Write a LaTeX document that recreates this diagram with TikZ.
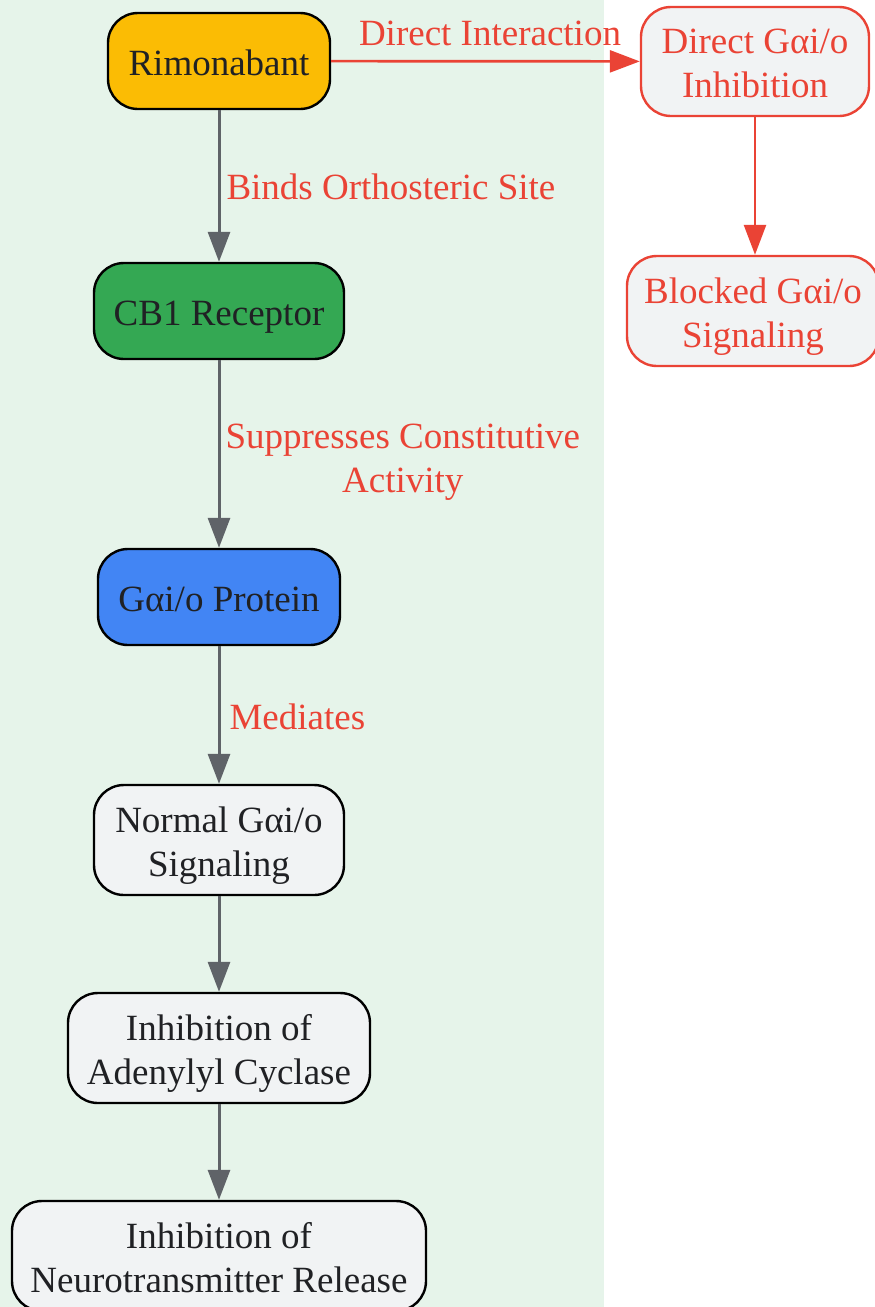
\documentclass[tikz,border=0pt]{standalone}
\usepackage{fontspec}
\setmainfont{Liberation Serif}
\usetikzlibrary{arrows.meta}
\definecolor{bggreen}{HTML}{E6F4EA}
\definecolor{gyellow}{HTML}{FBBC04}
\definecolor{ggreen}{HTML}{34A853}
\definecolor{gblue}{HTML}{4285F4}
\definecolor{glight}{HTML}{F1F3F4}
\definecolor{gred}{HTML}{EA4335}
\definecolor{ggray}{HTML}{5F6368}
\definecolor{gtext}{HTML}{202124}
\tikzset{
  box/.style={draw=black, line width=2.4pt, rounded corners=30pt, inner sep=0pt,
    align=center, text=gtext, font=\fontsize{37}{44}\selectfont},
  oneline/.style={text height=28pt, text depth=0pt},
  twoline/.style={text height=72pt, text depth=0pt},
  redbox/.style={box, draw=gred, fill=glight, text=gred},
  garrow/.style={draw=ggray, line width=3pt, -{Triangle[length=30pt,width=22pt]}},
  rarrow/.style={draw=gred, line width=2.7pt, -{Triangle[length=30pt,width=22pt]}},
  elabel/.style={text=gred, font=\fontsize{37}{44}\selectfont, align=center, inner sep=0pt}
}
\begin{document}
\begin{tikzpicture}[x=1pt,y=-1pt]
\useasboundingbox (0,0) rectangle (875,1307);
\fill[bggreen] (0,0) rectangle (604,1307);
\node[box, oneline, fill=gyellow, minimum width=222pt, minimum height=96pt] (rim) at (219,61) {Rimonabant};
\node[box, oneline, fill=ggreen, minimum width=250pt, minimum height=96pt] (cb1) at (219,311) {CB1 Receptor};
\node[box, oneline, fill=gblue, minimum width=242pt, minimum height=96pt] (gprot) at (219,597) {Gαi/o Protein};
\node[box, twoline, fill=glight, minimum width=250pt, minimum height=110pt] (norm) at (219,840) {Normal Gαi/o\\Signaling};
\node[box, twoline, fill=glight, minimum width=302pt, minimum height=110pt] (adc) at (219,1048) {Inhibition of\\Adenylyl Cyclase};
\node[box, twoline, fill=glight, minimum width=414pt, minimum height=110pt] (ntr) at (219,1256) {Inhibition of\\Neurotransmitter Release};
\node[redbox, twoline, minimum width=228pt, minimum height=109pt] (dir) at (755,61.5) {Direct Gαi/o\\Inhibition};
\node[redbox, twoline, minimum width=252pt, minimum height=110pt] (blk) at (753,311) {Blocked Gαi/o\\Signaling};

\draw[garrow] (rim) -- node[elabel, anchor=west, xshift=6pt, yshift=-1pt] {Binds Orthosteric Site} (cb1);
\draw[garrow] (cb1) -- node[elabel, anchor=west, xshift=5pt, yshift=-8pt] {Suppresses Constitutive\\Activity} (gprot);
\draw[garrow] (gprot) -- node[elabel, anchor=west, xshift=9pt, yshift=-2pt] {Mediates} (norm);
\draw[garrow] (norm) -- (adc);
\draw[garrow] (adc) -- (ntr);
\draw[rarrow] (rim) -- node[elabel, xshift=4.5pt, yshift=28pt] {Direct Interaction} (dir);
\draw[rarrow] (dir.south) -- (dir.south |- blk.north);
\end{tikzpicture}
\end{document}
